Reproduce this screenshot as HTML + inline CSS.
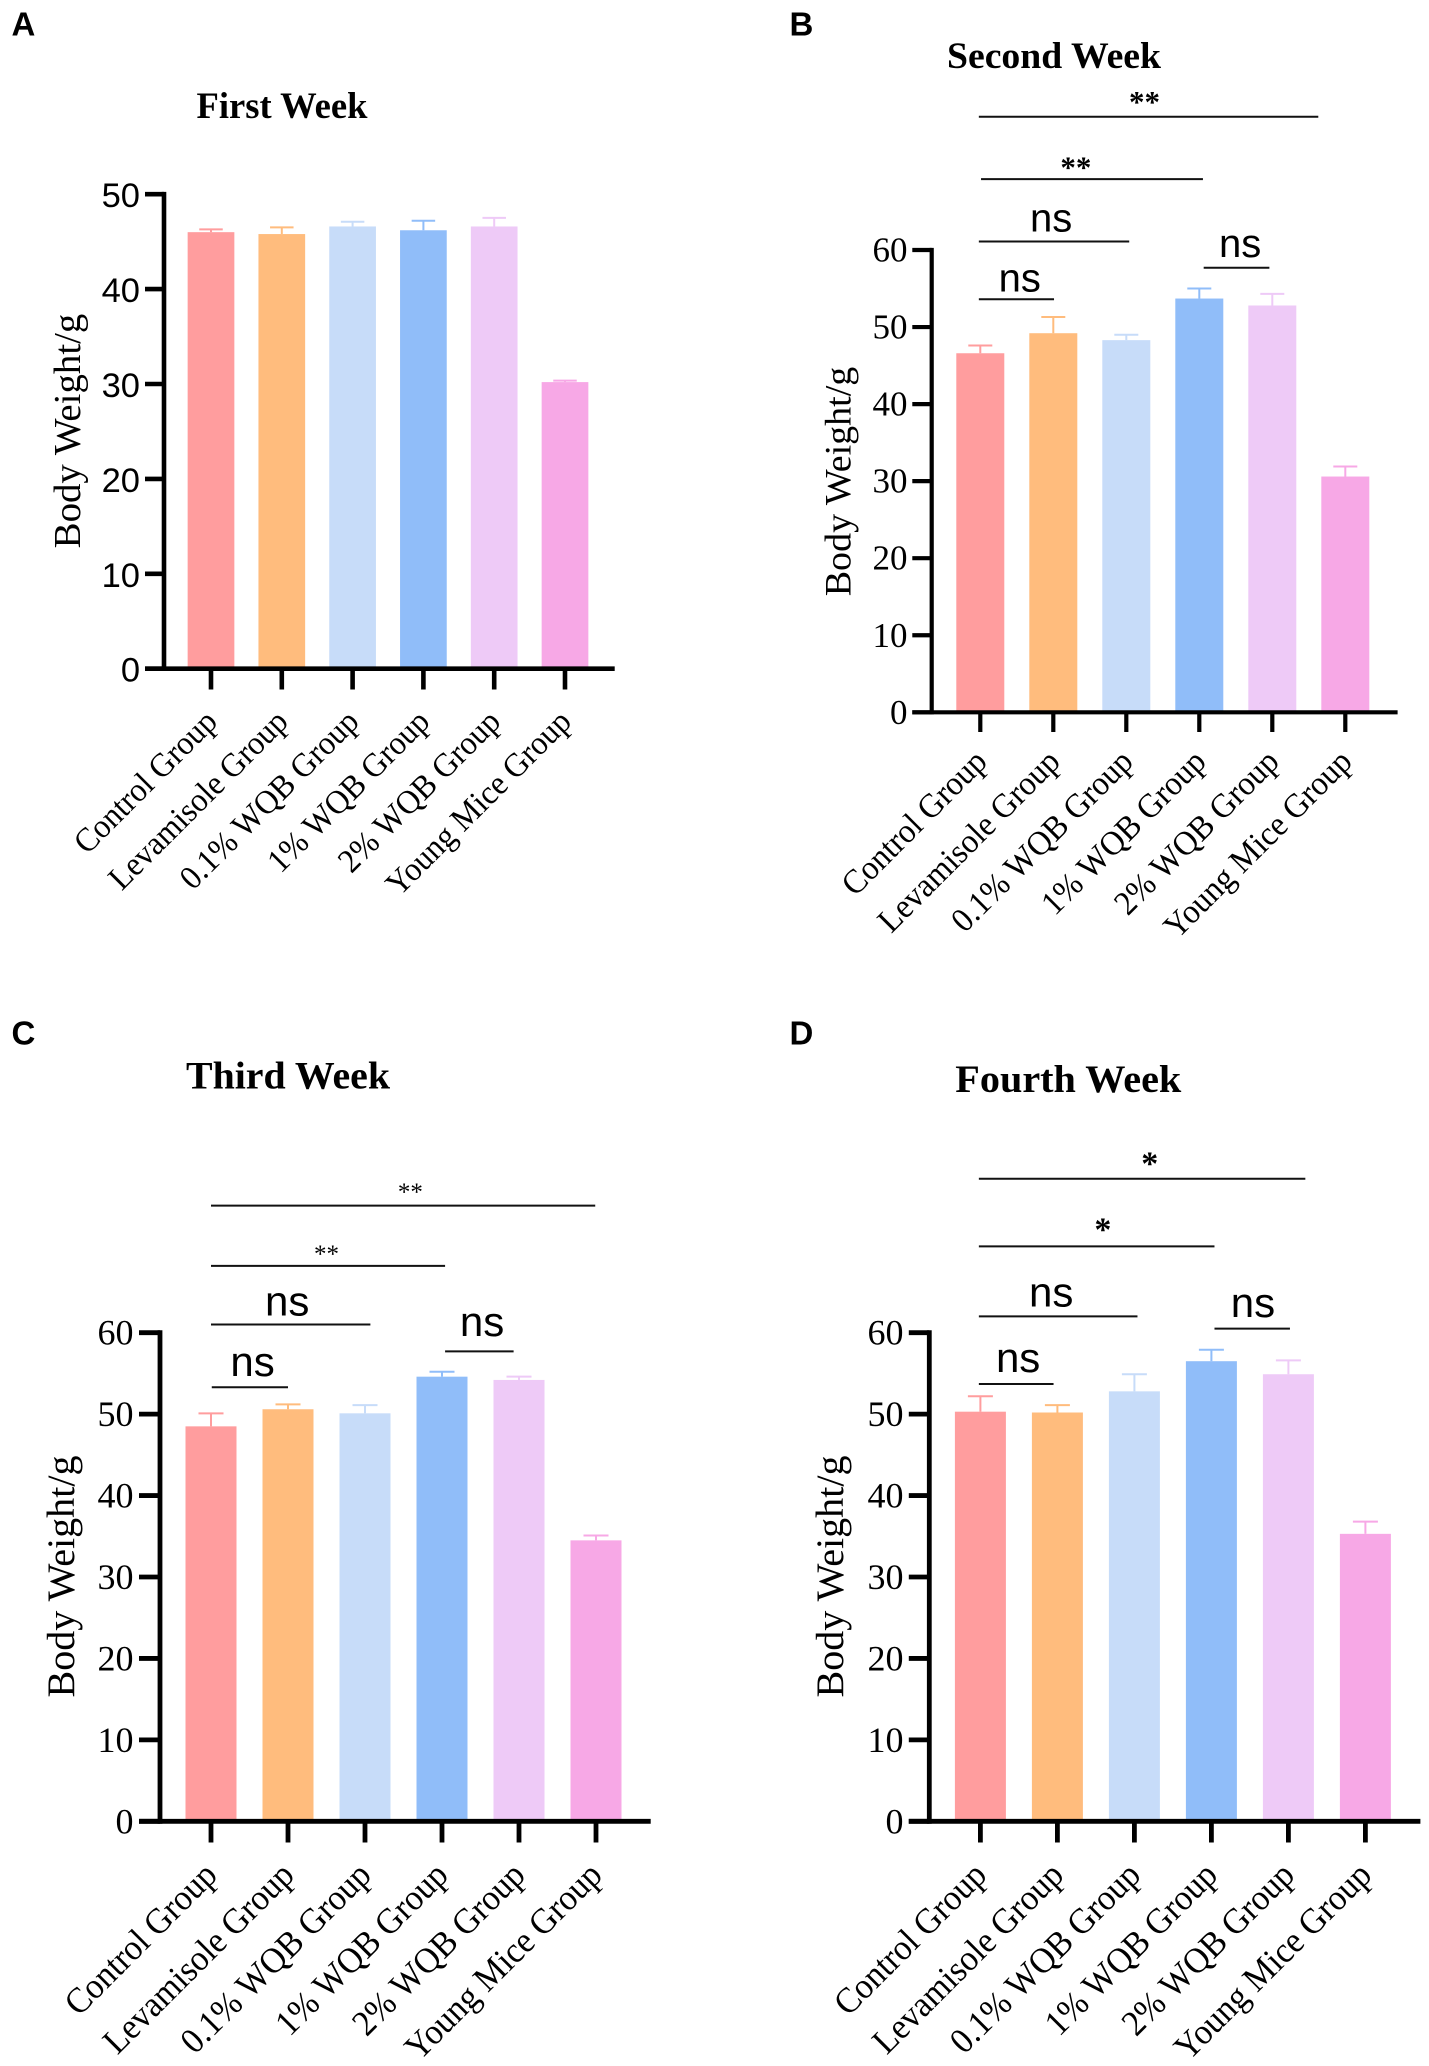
<!DOCTYPE html>
<html lang="en">
<head>
<meta charset="utf-8">
<title>Body weight by group over four weeks</title>
<style>
html,body{margin:0;padding:0;background:#fff;}
svg{display:block;}
</style>
</head>
<body>
<svg id="figure" xmlns="http://www.w3.org/2000/svg" width="1429" height="2066" viewBox="0 0 1429 2066"></svg>
<script>
const categories = ['Control Group', 'Levamisole Group', '0.1% WQB Group', '1% WQB Group', '2% WQB Group', 'Young Mice Group'];
const barColors = ['#FF9D9E', '#FFBC7D', '#C7DCF9', '#90BDF9', '#EECAF7', '#F7A8E6'];

const ticksA = [0, 10, 20, 30, 40, 50];
const ticksOther = [0, 10, 20, 30, 40, 50, 60];

const valuesA = [46.0, 45.8, 46.6, 46.2, 46.6, 30.2];
const errorsA = [0.3, 0.7, 0.5, 1.0, 0.9, 0.15];
const valuesB = [46.6, 49.2, 48.3, 53.7, 52.8, 30.6];
const errorsB = [1.0, 2.1, 0.7, 1.3, 1.5, 1.3];
const valuesC = [48.5, 50.6, 50.1, 54.6, 54.2, 34.5];
const errorsC = [1.6, 0.6, 1.0, 0.6, 0.4, 0.6];
const valuesD = [50.3, 50.2, 52.8, 56.5, 54.9, 35.3];
const errorsD = [1.9, 0.9, 2.1, 1.4, 1.7, 1.5];

const bracketsB = [
  {from: -0.02, to: 4.63, level: 77.3, label: '**', labelAt: 2.25, labelLevel: 77.9},
  {from: 0.01, to: 3.05, level: 69.2, label: '**', labelAt: 1.31, labelLevel: 69.4},
  {from: -0.02, to: 2.04, level: 61.1, label: 'ns', labelAt: 0.97, labelLevel: 62.4},
  {from: -0.02, to: 1.01, level: 53.6, label: 'ns', labelAt: 0.54, labelLevel: 54.6},
  {from: 3.06, to: 3.96, level: 57.7, label: 'ns', labelAt: 3.56, labelLevel: 59.1}
];
const bracketsC = [
  {from: 0, to: 4.99, level: 75.6, label: '**', labelAt: 2.59, labelLevel: 76.3},
  {from: 0, to: 3.04, level: 68.2, label: '**', labelAt: 1.5, labelLevel: 68.7},
  {from: 0, to: 2.07, level: 61.0, label: 'ns', labelAt: 0.99, labelLevel: 62.1},
  {from: 0.01, to: 1.0, level: 53.3, label: 'ns', labelAt: 0.54, labelLevel: 54.7},
  {from: 3.04, to: 3.93, level: 57.7, label: 'ns', labelAt: 3.52, labelLevel: 59.6}
];
const bracketsD = [
  {from: -0.02, to: 4.22, level: 78.9, label: '*', labelAt: 2.2, labelLevel: 79.4},
  {from: -0.02, to: 3.04, level: 70.6, label: '*', labelAt: 1.59, labelLevel: 71.3},
  {from: -0.02, to: 2.04, level: 62.0, label: 'ns', labelAt: 0.92, labelLevel: 63.2},
  {from: -0.02, to: 0.95, level: 53.7, label: 'ns', labelAt: 0.49, labelLevel: 55.2},
  {from: 3.04, to: 4.02, level: 60.5, label: 'ns', labelAt: 3.54, labelLevel: 61.9}
];

const SERIF = '"Liberation Serif", serif';
const SANS = '"Liberation Sans", sans-serif';
const NS = 'http://www.w3.org/2000/svg';
const root = document.getElementById('figure');

function make(tag, attrs, parent, text) {
  const node = document.createElementNS(NS, tag);
  Object.keys(attrs).forEach(function (k) { node.setAttribute(k, attrs[k]); });
  if (text !== undefined) node.textContent = text;
  parent.appendChild(node);
  return node;
}

function drawPanel(cfg, values, errors, ticks, brackets) {
  const yMax = ticks[ticks.length - 1];
  const xScale = function (i) { return cfg.x0 + i * cfg.step; };
  const yScale = function (v) { return cfg.y0 - v * (cfg.y0 - cfg.yTop) / yMax; };

  const g = make('g', {}, root);
  
  

  const letter = make('text', {x: cfg.letterX, y: cfg.letterY, 'font-family': SANS, 'font-weight': 'bold', 'font-size': 33, fill: '#000'}, g, cfg.letter);
  
  

  const title = make('text', {x: cfg.titleX, y: cfg.titleY, textLength: cfg.titleW, lengthAdjust: 'spacingAndGlyphs', 'font-family': SERIF, 'font-weight': 'bold', 'font-size': cfg.titleSize, fill: '#000'}, g, cfg.title);
  
  

  const yTitle = make('text', {transform: 'translate(' + cfg.yTitleX + ' ' + cfg.yTitleY + ') rotate(-90)', 'text-anchor': 'middle', textLength: cfg.yTitleW, lengthAdjust: 'spacingAndGlyphs', 'font-family': SERIF, 'font-size': cfg.yTitleSize, fill: '#000'}, g, 'Body Weight/g');
  
  

  values.forEach(function (v, i) {
    const cx = xScale(i);
    const top = yScale(v + errors[i]);
    const stem = make('line', {x1: cx, x2: cx, y1: yScale(v), y2: top, stroke: barColors[i], 'stroke-width': 2}, g);
    
    
    const cap = make('line', {x1: cx - cfg.capW / 2, x2: cx + cfg.capW / 2, y1: top, y2: top, stroke: barColors[i], 'stroke-width': 2}, g);
    
    
    const bar = make('rect', {x: cx - cfg.barW / 2, y: yScale(v), width: cfg.barW, height: cfg.y0 - yScale(v), fill: barColors[i]}, g);
    
    
  });

  const yAxis = make('line', {x1: cfg.axisX, x2: cfg.axisX, y1: yScale(yMax) - cfg.thick / 2, y2: cfg.y0 + cfg.thick / 2, stroke: '#000', 'stroke-width': cfg.thick}, g);
  
  
  const xAxis = make('line', {x1: cfg.axisLeft, x2: cfg.axisRight, y1: cfg.y0, y2: cfg.y0, stroke: '#000', 'stroke-width': cfg.thick}, g);
  
  

  ticks.forEach(function (t) {
    const ty = yScale(t);
    const mark = make('line', {x1: cfg.axisLeft, x2: cfg.axisX, y1: ty, y2: ty, stroke: '#000', 'stroke-width': cfg.thick}, g);
    
    
    const lab = make('text', {x: cfg.tickRight, y: ty + cfg.tickDy, 'text-anchor': 'end', 'font-family': cfg.tickFont, 'font-size': cfg.tickSize, fill: '#000'}, g, String(t));
    
    
  });

  categories.forEach(function (c, i) {
    const cx = xScale(i);
    const mark = make('line', {x1: cx, x2: cx, y1: cfg.y0, y2: cfg.tickBottom, stroke: '#000', 'stroke-width': cfg.thick}, g);
    
    
    const lab = make('text', {transform: 'translate(' + (cx + cfg.catDx) + ' ' + (cfg.tickBottom + cfg.catDy) + ') rotate(-45) scale(' + cfg.catScale + ' 1)', 'text-anchor': 'end', 'font-family': SERIF, 'font-size': cfg.catSize, fill: '#000'}, g, c);
    
    
  });

  brackets.forEach(function (b) {
    const ly = yScale(b.level);
    const rule = make('line', {x1: xScale(b.from), x2: xScale(b.to), y1: ly, y2: ly, stroke: '#111', 'stroke-width': 2}, g);
    
    
    const isNs = b.label === 'ns';
    const sig = make('text', {
      x: xScale(b.labelAt),
      y: yScale(b.labelLevel),
      'text-anchor': 'middle',
      'font-family': isNs ? SANS : SERIF,
      'font-weight': (!isNs && cfg.starWeight) || 'normal',
      'font-size': isNs ? cfg.nsSize : cfg.starSize,
      fill: '#000'
    }, g, b.label);
    
    
  });
}

drawPanel({
  letter: 'A', letterX: 11.5, letterY: 35.5,
  title: 'First Week', titleX: 196.5, titleY: 118, titleW: 171, titleSize: 37,
  yTitleX: 80, yTitleY: 431, yTitleW: 234.7, yTitleSize: 38,
  x0: 211, step: 70.8, barW: 46.7, capW: 23.5,
  y0: 668.7, yTop: 194.2, axisX: 164, axisLeft: 145, axisRight: 614.7, tickBottom: 689.5, thick: 4.6,
  tickRight: 140, tickDy: 13, tickSize: 34.5, tickFont: SANS,
  catDx: 8, catDy: 34, catSize: 33.5, catScale: 0.95,
  nsSize: 40, starSize: 30, starWeight: 'bold'
}, valuesA, errorsA, ticksA, []);

drawPanel({
  letter: 'B', letterX: 789.5, letterY: 35.5,
  title: 'Second Week', titleX: 947, titleY: 68.2, titleW: 214, titleSize: 37,
  yTitleX: 850.4, yTitleY: 481.5, yTitleW: 229.6, yTitleSize: 37.4,
  x0: 980.3, step: 73, barW: 48, capW: 24,
  y0: 712.3, yTop: 250, axisX: 931.7, axisLeft: 912.3, axisRight: 1397.6, tickBottom: 732, thick: 4.2,
  tickRight: 907.5, tickDy: 11.5, tickSize: 35, tickFont: SERIF,
  catDx: 8.5, catDy: 31.5, catSize: 34, catScale: 0.95,
  nsSize: 40, starSize: 31, starWeight: 'bold'
}, valuesB, errorsB, ticksOther, bracketsB);

drawPanel({
  letter: 'C', letterX: 11.5, letterY: 1044.5,
  title: 'Third Week', titleX: 186, titleY: 1088.4, titleW: 204, titleSize: 39,
  yTitleX: 73.9, yTitleY: 1576.5, yTitleW: 242, yTitleSize: 39,
  x0: 211, step: 77, barW: 51, capW: 25,
  y0: 1821.3, yTop: 1332.7, axisX: 160, axisLeft: 139, axisRight: 650.7, tickBottom: 1842.5, thick: 4.8,
  tickRight: 133.5, tickDy: 12, tickSize: 36, tickFont: SERIF,
  catDx: 8, catDy: 34.5, catSize: 36, catScale: 0.94,
  nsSize: 42, starSize: 25, starWeight: ''
}, valuesC, errorsC, ticksOther, bracketsC);

drawPanel({
  letter: 'D', letterX: 789.5, letterY: 1044.5,
  title: 'Fourth Week', titleX: 955.3, titleY: 1091.8, titleW: 226, titleSize: 39.5,
  yTitleX: 843, yTitleY: 1576.5, yTitleW: 242, yTitleSize: 39,
  x0: 980.4, step: 77, barW: 51, capW: 25,
  y0: 1821.3, yTop: 1332.7, axisX: 929.3, axisLeft: 908.8, axisRight: 1420.4, tickBottom: 1842.5, thick: 4.8,
  tickRight: 903.5, tickDy: 12, tickSize: 36, tickFont: SERIF,
  catDx: 8, catDy: 34.5, catSize: 36, catScale: 0.94,
  nsSize: 42, starSize: 34, starWeight: 'bold'
}, valuesD, errorsD, ticksOther, bracketsD);
</script>
</body>
</html>
